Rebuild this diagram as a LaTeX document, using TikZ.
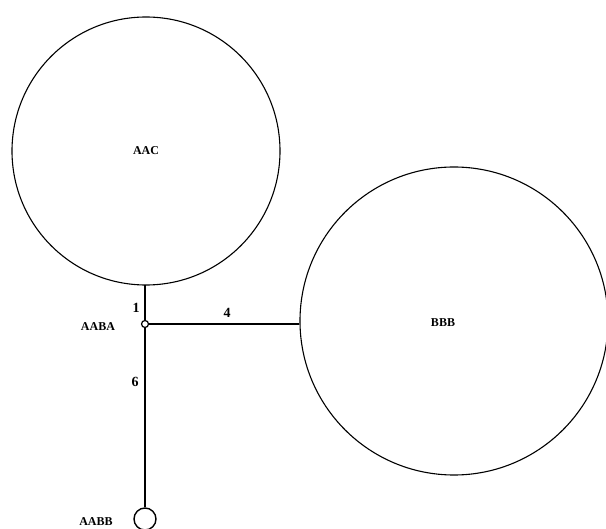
\documentclass[tikz,border=0pt]{standalone}
\usepackage{fontspec}
\setmainfont{Liberation Serif}
\begin{document}
\begin{tikzpicture}[x=1pt,y=-1pt,
  edge/.style={line width=1.4pt},
  bigc/.style={circle,draw,line width=1.1pt,inner sep=0pt},
  lbl/.style={font=\bfseries\fontsize{12}{12}\selectfont,inner sep=0pt},
  num/.style={font=\bfseries\fontsize{14}{14}\selectfont,inner sep=0pt}]
\useasboundingbox (0,0) rectangle (606,529);
\node[bigc,minimum size=268pt,label={[lbl]center:AAC}] (aac) at (146,151) {};
\node[bigc,minimum size=308pt] (bbb) at (454,321) {};
\node[lbl] at (443,323) {BBB};
\node[circle,draw,line width=1.2pt,minimum size=7pt,inner sep=0pt] (aaba) at (145,324) {};
\node[circle,draw,line width=1.4pt,minimum size=22pt,inner sep=0pt] (aabb) at (145,519) {};
\coordinate (top) at (145,285);
\draw[edge] (top) -- (aaba);
\draw[edge] (aaba) -- (aaba -| bbb.west);
\draw[edge] (aaba) -- (aabb);
\node[num] at (136,308) {1};
\node[num] at (227,313) {4};
\node[num] at (135,382) {6};
\node[lbl] at (98,327) {AABA};
\node[lbl] at (96,522) {AABB};
\end{tikzpicture}
\end{document}
